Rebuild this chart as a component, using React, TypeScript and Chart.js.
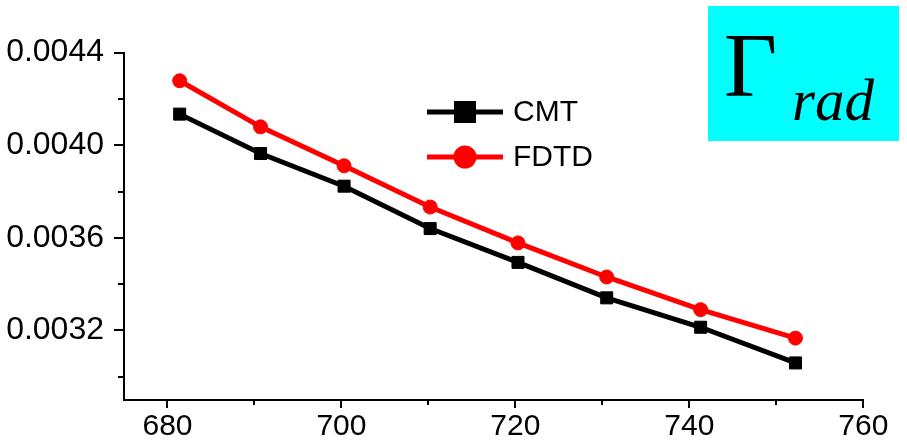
import React, { useEffect, useRef } from 'react';
import { Chart, registerables } from 'chart.js';

Chart.register(...registerables);

const wavelengths = [681.4, 690.7, 700.3, 710.2, 720.3, 730.5, 741.3, 752.2];
const cmtValues = [0.004134, 0.003964, 0.003823, 0.00364, 0.003494, 0.003341, 0.003214, 0.00306];
const fdtdValues = [0.004278, 0.004079, 0.003911, 0.003733, 0.003578, 0.003431, 0.00329, 0.003167];
const seriesLabels = ['CMT', 'FDTD'];
const xMajorTicks = [680, 700, 720, 740, 760];
const xMinorTicks = [690, 710, 730, 750];
const yMajorTicks = [0.0032, 0.0036, 0.004, 0.0044];
const yMinorTicks = [0.003, 0.0034, 0.0038, 0.0042];
const titleMain = 'Γ';
const titleSub = 'rad';

const SANS = '"Liberation Sans", Arial, sans-serif';
const SERIF = '"Liberation Serif", "Times New Roman", serif';

const decorPlugin = {
  id: 'decor',
  afterDraw(chart: any) {
    const ctx = chart.ctx as CanvasRenderingContext2D;
    const xs = chart.scales.x;
    const ys = chart.scales.y;
    const { left, bottom } = chart.chartArea;
    ctx.save();
    ctx.strokeStyle = '#000';
    ctx.lineWidth = 2;
    const seg = (x1: number, y1: number, x2: number, y2: number) => {
      ctx.beginPath();
      ctx.moveTo(x1, y1);
      ctx.lineTo(x2, y2);
      ctx.stroke();
    };
    xMajorTicks.forEach((v) => {
      const p = Math.round(xs.getPixelForValue(v));
      seg(p, bottom, p, bottom + 8);
    });
    xMinorTicks.forEach((v) => {
      const p = Math.round(xs.getPixelForValue(v));
      seg(p, bottom, p, bottom + 5);
    });
    yMajorTicks.forEach((v) => {
      const p = Math.round(ys.getPixelForValue(v));
      seg(left, p, left - 10, p);
    });
    yMinorTicks.forEach((v) => {
      const p = Math.round(ys.getPixelForValue(v));
      seg(left, p, left - 6, p);
    });

    // legend
    const lx1 = 427, lx2 = 503, mx = 465, tx = 513;
    const rows = [
      { y: 112, color: '#000000', shape: 'rect' },
      { y: 157, color: '#FF0000', shape: 'circle' },
    ];
    rows.forEach((r, i) => {
      ctx.strokeStyle = r.color;
      ctx.fillStyle = r.color;
      ctx.lineWidth = 5;
      seg(lx1, r.y, lx2, r.y);
      if (r.shape === 'rect') {
        ctx.fillRect(mx - 11, r.y - 11, 22, 22);
      } else {
        ctx.beginPath();
        ctx.arc(mx, r.y, 11.5, 0, Math.PI * 2);
        ctx.fill();
      }
      ctx.fillStyle = '#000';
      ctx.font = `30px ${SANS}`;
      ctx.textBaseline = 'middle';
      ctx.textAlign = 'left';
      ctx.fillText(seriesLabels[i], tx, r.y + 1);
    });

    // Gamma box
    ctx.fillStyle = '#00FFFF';
    ctx.fillRect(708, 6, 191, 135);
    ctx.fillStyle = '#000';
    ctx.textBaseline = 'alphabetic';
    ctx.textAlign = 'left';
    ctx.font = `92px ${SERIF}`;
    ctx.fillText(titleMain, 724, 96);
    ctx.font = `italic 59px ${SERIF}`;
    ctx.fillText(titleSub, 792, 120);
    ctx.restore();
  },
};

export default function App() {
  const ref = useRef<HTMLCanvasElement | null>(null);
  useEffect(() => {
    if (!ref.current) return;
    const chart = new Chart(ref.current, {
      type: 'line',
      data: {
        datasets: [
          {
            label: seriesLabels[0],
            data: wavelengths.map((x, i) => ({ x, y: cmtValues[i] })),
            borderColor: '#000000',
            backgroundColor: '#000000',
            borderWidth: 5,
            pointStyle: 'rect',
            pointRadius: 8.5,
            pointBorderWidth: 1,
            pointBackgroundColor: '#000000',
            pointBorderColor: '#000000',
            tension: 0,
          },
          {
            label: seriesLabels[1],
            data: wavelengths.map((x, i) => ({ x, y: fdtdValues[i] })),
            borderColor: '#FF0000',
            backgroundColor: '#FF0000',
            borderWidth: 5,
            pointStyle: 'circle',
            pointRadius: 7,
            pointBorderWidth: 1,
            pointBackgroundColor: '#FF0000',
            pointBorderColor: '#FF0000',
            tension: 0,
          },
        ],
      },
      options: {
        animation: false,
        responsive: false,
        devicePixelRatio: 1,
        clip: false as any,
        layout: { padding: { left: 0, top: 52.5, right: 43.7, bottom: 0 } },
        plugins: { legend: { display: false }, tooltip: { enabled: false } },
        scales: {
          x: {
            type: 'linear',
            min: 675,
            max: 760,
            afterBuildTicks: (s: any) => {
              s.ticks = xMajorTicks.map((v) => ({ value: v }));
            },
            afterFit: (s: any) => {
              s.height = 47;
            },
            grid: { display: false },
            border: { display: true, color: '#000', width: 2 },
            ticks: {
              padding: 1,
              color: '#000',
              font: { family: SANS, size: 30 },
              maxRotation: 0,
              autoSkip: false,
              callback: (v: any) => String(v),
            },
          },
          y: {
            type: 'linear',
            min: 0.0029,
            max: 0.0044,
            afterBuildTicks: (s: any) => {
              s.ticks = yMajorTicks.map((v) => ({ value: v }));
            },
            afterFit: (s: any) => {
              s.width = 124;
            },
            grid: { display: false },
            border: { display: true, color: '#000', width: 2 },
            ticks: {
              padding: 12,
              color: '#000',
              font: { family: SANS, size: 32 },
              autoSkip: false,
              callback: (v: any) => Number(v).toFixed(4),
            },
          },
        },
      },
      plugins: [decorPlugin],
    } as any);
    return () => chart.destroy();
  }, []);
  return (
    <div style={{ position: 'absolute', left: 0, top: 0, width: 907, height: 447, background: '#fff' }}>
      <canvas ref={ref} width={907} height={447} style={{ display: 'block' }} />
    </div>
  );
}
